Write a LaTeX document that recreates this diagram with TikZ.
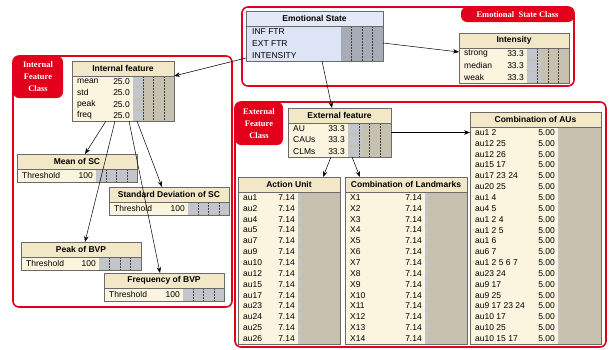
\documentclass[tikz,border=0pt]{standalone}
\usepackage{fontspec}
\setmainfont{Liberation Sans}
\newfontfamily\classfont{Liberation Serif}
\usetikzlibrary{arrows.meta}
\definecolor{ndbody}{HTML}{FBF4DF}
\definecolor{ndtitle}{HTML}{F2E7C6}
\definecolor{ndgrey}{HTML}{C7C1AF}
\definecolor{ndbar}{HTML}{C3C5CC}
\definecolor{esbody}{HTML}{DDE4F6}
\definecolor{estitle}{HTML}{E4E9F7}
\definecolor{esgrey}{HTML}{A8ACB6}
\definecolor{boxedge}{HTML}{6A6A6A}
\definecolor{classred}{HTML}{E3001B}

% box of a net node: #1 colour set, #2 name, #3 top left, #4 width, #5 height, #6 grey offset, #7 title
\newcommand{\bnnode}[7][nd]{%
  \node[boxbody, fill=#1body, minimum width=#4pt, minimum height=#5pt] (#2) at (#3) {};
  \node[boxtitle, fill=#1title, minimum width=#4pt] (#2-t) at (#2.north west) {#7};
  \fill[#1grey] ([xshift=#6pt]#2-t.south west) rectangle (#2.south east);
}
% rows: #1 name, #2 grey offset, #3 grey width, #4 row height, #5 label/value list
\newcommand{\bnrows}[5]{%
  \foreach \lab/\val [count=\i] in {#5} {
    \fill[ndbar] ([xshift=#2pt, yshift={-(\i-1)*#4-1}]#1-t.south west) rectangle ++({#3*\val/100},{#4-2});
    \node[boxrow, anchor=west] (#1-l\i) at ([xshift=5pt, yshift={-(\i-0.5)*#4}]#1-t.south west) {\lab};
    \node[boxrow, anchor=east] (#1-v\i) at ([xshift={#2-3}, yshift={-(\i-0.5)*#4}]#1-t.south west) {\val};
  }
}
% dotted marks in the grey part: #1 name, #2 grey offset, #3 grey width, #4 body height
\newcommand{\bnticks}[4]{%
  \foreach \f in {0.25,0.5,0.75}
    \draw[boxtick] ([xshift={#2+\f*#3}]#1-t.south west) -- ++(0,#4);
}
\newcommand{\bnedge}[1]{%
  \draw[boxline] (#1.north west) rectangle (#1.south east);
  \draw[boxline] (#1-t.south west) -- (#1-t.south east);
}

\begin{document}
\begin{tikzpicture}[x=1pt,y=-1pt,
    boxbody/.style={rectangle, anchor=north west, inner sep=0pt, outer sep=0pt},
    boxtitle/.style={rectangle, anchor=north west, inner sep=0pt, outer sep=0pt, minimum height=15pt, font=\bfseries\fontsize{8.5}{10}\selectfont},
    boxrow/.style={inner sep=0pt, font=\fontsize{8.5}{10}\selectfont},
    boxline/.style={draw=boxedge, line width=0.6pt},
    boxtick/.style={draw=black!75, line width=0.5pt, dash pattern=on 1.5pt off 1.5pt},
    classframe/.style={draw=classred, line width=1.6pt, rounded corners=6pt, anchor=north west, inner sep=0pt, outer sep=0pt},
    classtag/.style={fill=classred, rounded corners=6pt, inner sep=0pt, outer sep=0pt, text=white, align=center, font=\classfont\bfseries\fontsize{8.5}{12}\selectfont},
    link/.style={-{Stealth[length=6pt, width=4.5pt]}, line width=0.5pt}]
    \fill[white] (0,0) rectangle (609,349);
    \useasboundingbox (0,0) rectangle (609,349);

    % class frames
    \node[classframe, minimum width=332pt, minimum height=79pt] (esclass) at (242,7) {};
    \node[classtag, anchor=north east, minimum width=113pt, minimum height=15pt] (estag) at (esclass.north east) {Emotional~~State Class};
    \node[classframe, minimum width=219pt, minimum height=251pt] (inclass) at (13,56) {};
    \node[classtag, anchor=north west, minimum width=50pt, minimum height=42pt] (intag) at (inclass.north west) {Internal\\Feature\\Class};
    \node[classframe, minimum width=371pt, minimum height=245pt] (exclass) at (235,102) {};
    \node[classtag, anchor=north west, minimum width=48pt, minimum height=43pt] (extag) at (exclass.north west) {External\\Feature\\Class};

    % emotional state
    \bnnode[es]{es}{246,11}{137}{50}{95}{Emotional State}
    \foreach \lab [count=\i] in {INF FTR,EXT FTR,INTENSITY}
      \node[boxrow, anchor=west] (es-l\i) at ([xshift=6pt, yshift={-(\i-0.5)*11.67}]es-t.south west) {\lab};
    \bnticks{es}{95}{42}{35}
    \bnedge{es}

    \bnnode{intens}{459,33}{110}{50}{68}{Intensity}
    \bnrows{intens}{68}{42}{11.67}{strong/33.3, median/33.3, weak/33.3}
    \bnticks{intens}{68}{42}{35}
    \bnedge{intens}

    % internal features
    \bnnode{intf}{72,61}{102}{60}{61}{Internal feature}
    \bnrows{intf}{61}{41}{11.25}{mean/25.0, std/25.0, peak/25.0, freq/25.0}
    \bnticks{intf}{61}{41}{45}
    \bnedge{intf}

    \bnnode{mean}{17,154}{120}{28}{79}{Mean of SC}
    \bnrows{mean}{79}{41}{13}{Threshold/100}
    \bnticks{mean}{79}{41}{13}
    \bnedge{mean}

    \bnnode{std}{109,187}{120}{28}{79}{Standard Deviation of SC}
    \bnrows{std}{79}{41}{13}{Threshold/100}
    \bnticks{std}{79}{41}{13}
    \bnedge{std}

    \bnnode{peak}{21,242}{120}{28}{78}{Peak of BVP}
    \bnrows{peak}{78}{42}{13}{Threshold/100}
    \bnticks{peak}{78}{42}{13}
    \bnedge{peak}

    \bnnode{freq}{104,273}{120}{28}{79}{Frequency of BVP}
    \bnrows{freq}{79}{41}{13}{Threshold/100}
    \bnticks{freq}{79}{41}{13}
    \bnedge{freq}

    % external features
    \bnnode{extf}{288,108}{103}{49}{60}{External feature}
    \bnrows{extf}{60}{43}{11.33}{AU/33.3, CAUs/33.3, CLMs/33.3}
    \bnticks{extf}{60}{43}{34}
    \bnedge{extf}

    \bnnode{au}{238,177}{102}{167}{60}{Action Unit}
    \bnrows{au}{60}{42}{10.86}{au1/7.14, au2/7.14, au4/7.14, au5/7.14, au7/7.14, au9/7.14, au10/7.14,
      au12/7.14, au15/7.14, au17/7.14, au23/7.14, au24/7.14, au25/7.14, au26/7.14}
    \bnedge{au}

    \bnnode{clm}{345,177}{122}{167}{80}{Combination of Landmarks}
    \bnrows{clm}{80}{42}{10.86}{X1/7.14, X2/7.14, X3/7.14, X4/7.14, X5/7.14, X6/7.14, X7/7.14,
      X8/7.14, X9/7.14, X10/7.14, X11/7.14, X12/7.14, X13/7.14, X14/7.14}
    \bnedge{clm}

    \bnnode{cau}{470,112}{131}{232}{88}{Combination of AUs}
    \bnrows{cau}{88}{43}{10.85}{au1 2/5.00, au12 25/5.00, au12 26/5.00, au15 17/5.00, au17 23 24/5.00,
      au20 25/5.00, au1 4/5.00, au4 5/5.00, au1 2 4/5.00, au1 2 5/5.00, au1 6/5.00, au6 7/5.00,
      au1 2 5 6 7/5.00, au23 24/5.00, au9 17/5.00, au9 25/5.00, au9 17 23 24/5.00, au10 17/5.00,
      au10 25/5.00, au10 15 17/5.00}
    \bnedge{cau}

    % links
    \path[link] ([yshift=-7pt]es.east) edge ([yshift=6pt]intens.west);
    \path[link] ([yshift=3pt]es.south west) edge (intf-t.south east);
    \path[link] ([xshift=7.5pt]es.south) edge ([xshift=-7.5pt]extf.north);
    \path[link] ([xshift=-17pt]intf.south) edge ([xshift=8pt]mean.north);
    \path[link] ([xshift=-8pt]intf.south) edge ([xshift=4pt]peak.north);
    \path[link] ([xshift=6pt]intf.south) edge ([xshift=-4pt]freq.north);
    \path[link] ([xshift=14pt]intf.south) edge ([xshift=-7pt]std.north);
    \path[link] ([xshift=-8.5pt]extf.south) edge ([xshift=34pt]au.north);
    \path[link] ([xshift=12.5pt]extf.south) edge ([xshift=-46pt]clm.north);
    \path[link] (extf.east) edge (extf.east -| cau.west);
\end{tikzpicture}
\end{document}
